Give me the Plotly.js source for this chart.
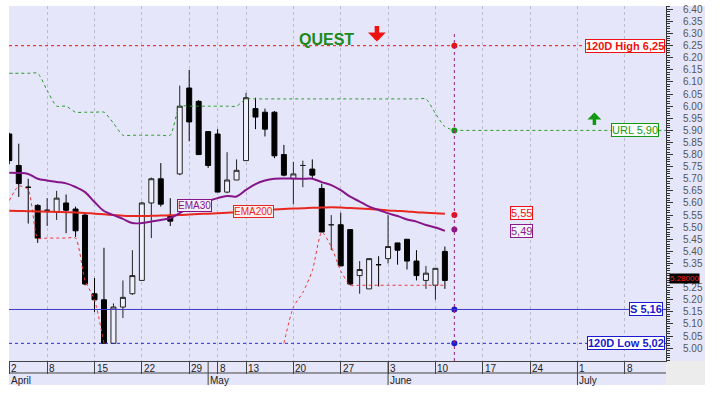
<!DOCTYPE html>
<html>
<head>
<meta charset="utf-8">
<script src="https://cdn.plot.ly/plotly-3.0.1.min.js"></script>
<style>
html,body{margin:0;padding:0;background:#ffffff;}
#chart{width:724px;height:398px;}
</style>
</head>
<body>
<div id="chart"></div>
<script>
// ---- candle data (trading-day slots 0..46, 2 April .. 11 June) ----
const openP  = [5.885,5.755,5.665,5.59,5.57,5.565,5.60,5.575,5.55,5.225,5.20,5.02,5.17,5.225,5.28,5.60,5.70,5.545,5.72,6.075,6.02,5.895,5.885,5.645,5.695,5.775,5.99,5.975,5.975,5.80,5.70,5.755,5.74,5.66,5.51,5.51,5.49,5.30,5.245,5.345,5.37,5.435,5.45,5.36,5.28,5.26,5.40];
const highP  = [5.89,5.845,5.70,5.595,5.62,5.65,5.635,5.585,5.555,5.29,5.415,5.185,5.28,5.405,5.605,5.705,5.765,5.62,6.085,6.15,6.025,5.895,5.905,5.81,5.78,6.055,6.035,5.99,5.98,5.84,5.77,5.775,5.78,5.68,5.55,5.56,5.49,5.36,5.37,5.38,5.55,5.435,5.45,5.405,5.34,5.33,5.42];
const lowP   = [5.76,5.625,5.515,5.435,5.505,5.53,5.475,5.46,5.26,5.15,5.02,5.02,5.125,5.22,5.28,5.455,5.585,5.505,5.715,5.855,5.80,5.745,5.645,5.64,5.695,5.775,5.905,5.875,5.785,5.71,5.595,5.665,5.70,5.48,5.405,5.34,5.26,5.225,5.245,5.255,5.35,5.345,5.325,5.28,5.245,5.20,5.245];
const closeP = [5.775,5.68,5.665,5.455,5.57,5.62,5.57,5.485,5.265,5.20,5.02,5.17,5.21,5.30,5.60,5.70,5.595,5.525,6.00,5.935,5.80,5.755,5.645,5.695,5.735,6.035,5.955,5.905,5.795,5.715,5.72,5.755,5.715,5.48,5.51,5.34,5.265,5.325,5.37,5.345,5.42,5.405,5.36,5.30,5.31,5.33,5.28];

// ---- indicators ----
const ema30  = [5.725,5.724,5.72,5.70,5.693,5.687,5.681,5.666,5.645,5.604,5.567,5.55,5.534,5.517,5.517,5.523,5.53,5.538,5.558,5.58,5.596,5.608,5.62,5.629,5.627,5.654,5.678,5.693,5.70,5.701,5.701,5.70,5.70,5.686,5.674,5.653,5.626,5.606,5.585,5.571,5.557,5.546,5.532,5.523,5.509,5.499,5.485];
const ema200 = [5.568,5.567,5.566,5.565,5.564,5.563,5.562,5.561,5.559,5.556,5.553,5.55,5.547,5.546,5.546,5.547,5.548,5.549,5.55,5.552,5.554,5.556,5.558,5.56,5.562,5.565,5.568,5.571,5.573,5.575,5.577,5.578,5.58,5.581,5.582,5.581,5.579,5.577,5.575,5.573,5.569,5.567,5.565,5.562,5.56,5.558,5.556];
const urlStop = [6.136,6.136,6.136,6.136,6.065,6.00,6.00,5.975,5.975,5.975,5.975,5.93,5.88,5.88,5.88,5.88,5.88,5.88,6.00,6.00,6.00,6.00,6.00,6.00,6.00,6.03,6.03,6.03,6.03,6.03,6.03,6.03,6.03,6.03,6.03,6.03,6.03,6.03,6.03,6.03,6.03,6.03,6.03,6.03,6.03,5.97,5.915,5.90];
const lowStop = [5.61,5.67,5.655,5.455,5.455,5.455,5.455,5.455,5.28,5.20,5.02,null,null,null,null,null,null,null,null,null,null,null,null,null,null,null,null,null,null,5.02,5.17,5.23,5.32,5.48,5.42,5.32,5.26,5.26,5.26,5.26,5.26,5.26,5.26,5.26,5.26,5.26,5.26];

// ---- levels ----
const levelSlot = 47;
const levelNames  = ['120D High 6,25','URL 5,90','5,55','5,49','S 5,16','120D Low 5,02'];
const levelValues = [6.25, 5.90, 5.55, 5.49, 5.16, 5.02];
const levelColors = ['#ee1111','#119911','#ee1111','#8a1a8a','#1a1ad0','#1a1ad0'];
const lastPrice = 5.28;
const markerTop = 6.30;

// ---- axis labels ----
const dayTickSlots  = [0,4,9,14,19,22,25,30,35,40,45,50,55,60,65];
const dayTickLabels = ['2','8','15','22','29','8','13','20','27','3','10','17','24','1','8'];
const monthSlots  = [0,21,40,60];
const monthLabels = ['April','May','June','July'];
const yTickVals = [5.00,5.05,5.10,5.15,5.20,5.25,5.30,5.35,5.40,5.45,5.50,5.55,5.60,5.65,5.70,5.75,5.80,5.85,5.90,5.95,6.00,6.05,6.10,6.15,6.20,6.25,6.30,6.35,6.40];
// 5.30 is hidden behind the last-price tag in the reference
const yTickText = ['5.00','5.05','5.10','5.15','5.20','5.25','','5.35','5.40','5.45','5.50','5.55','5.60','5.65','5.70','5.75','5.80','5.85','5.90','5.95','6.00','6.05','6.10','6.15','6.20','6.25','6.30','6.35','6.40'];

const X_MIN = -0.03, X_MAX = 69.35, Y_MIN = 4.947, Y_MAX = 6.414;
const FONT = 'Liberation Sans, Arial, sans-serif';
const candleX = openP.map((_, i) => i);
const lineX = urlStop.map((_, i) => i);

const traces = [
  {type:'scatter', mode:'lines', x:lineX, y:urlStop, line:{color:'#2a9a2a', width:1, dash:'dot', shape:'spline', smoothing:0.6}, hoverinfo:'skip'},
  {type:'scatter', mode:'lines', x:candleX, y:lowStop, line:{color:'#ee3333', width:1, dash:'dot', shape:'spline', smoothing:0.6}, connectgaps:false, hoverinfo:'skip'},
  {type:'candlestick', x:candleX, open:openP, high:highP, low:lowP, close:closeP,
   increasing:{line:{color:'#222222', width:1}, fillcolor:'#f0f0fc'},
   decreasing:{line:{color:'#000000', width:1}, fillcolor:'#000000'},
   whiskerwidth:0, hoverinfo:'skip'},
  {type:'scatter', mode:'lines', x:candleX, y:ema200, line:{color:'#e8281e', width:2, shape:'spline'}, hoverinfo:'skip'},
  {type:'scatter', mode:'lines', x:candleX, y:ema30, line:{color:'#86158a', width:2, shape:'spline'}, hoverinfo:'skip'},
  {type:'scatter', mode:'markers', x:levelValues.map(() => levelSlot), y:levelValues,
   marker:{color:levelColors, size:6}, hoverinfo:'skip'}
];

const shapes = [
  // right axis column and date strip backgrounds
  {type:'rect', xref:'paper', yref:'paper', x0:1, x1:1.0594, y0:0, y1:1, fillcolor:'#e6e6fa', line:{width:0}, layer:'below'},
  {type:'rect', xref:'paper', yref:'paper', x0:0, x1:1, y0:-0.0676, y1:0, fillcolor:'#e6e6fa', line:{width:0}, layer:'below'},
  {type:'rect', xref:'paper', yref:'paper', x0:1, x1:1.0594, y0:-0.0676, y1:0, fillcolor:'#ececec', line:{width:0}, layer:'below'},
  {type:'line', xref:'paper', yref:'paper', x0:0, x1:1, y0:-0.0338, y1:-0.0338, line:{color:'#444', width:1}},
  // horizontal levels
  {type:'line', xref:'paper', yref:'y', x0:0, x1:1, y0:levelValues[0], y1:levelValues[0], line:{color:levelColors[0], width:1, dash:'dot'}},
  {type:'line', xref:'x', yref:'y', x0:levelSlot, x1:X_MAX, y0:levelValues[1], y1:levelValues[1], line:{color:'#2a9a2a', width:1, dash:'dot'}},
  {type:'line', xref:'paper', yref:'y', x0:0, x1:1, y0:levelValues[4], y1:levelValues[4], line:{color:'#3a3ac8', width:1}},
  {type:'line', xref:'paper', yref:'y', x0:0, x1:1, y0:levelValues[5], y1:levelValues[5], line:{color:'#2a2ad0', width:1, dash:'dot'}},
  // vertical marker line
  {type:'line', xref:'x', yref:'y', x0:levelSlot, x1:levelSlot, y0:Y_MIN, y1:markerTop, line:{color:'#a0207a', width:1, dash:'dot'}}
];
monthSlots.slice(1).forEach(s => shapes.push({type:'line', xref:'x', yref:'paper', x0:s, x1:s, y0:-0.0676, y1:0, line:{color:'#444', width:1}}));

const annotations = [];
dayTickSlots.forEach((s, i) => annotations.push({xref:'x', yref:'paper', x:s, y:-0.001, xanchor:'left', yanchor:'top', xshift:0, showarrow:false, text:dayTickLabels[i], font:{family:FONT, size:10, color:'#222'}}));
monthSlots.forEach((s, i) => annotations.push({xref:'x', yref:'paper', x:Math.max(s, X_MIN), y:-0.0345, xanchor:'left', yanchor:'top', showarrow:false, text:monthLabels[i], font:{family:FONT, size:10, color:'#222'}}));

// level labels
const boxLabel = (i, xshift, bold, x) => ({xref: x === undefined ? 'paper' : 'x', yref:'y', x: x === undefined ? 1 : x, y:levelValues[i], xanchor: x === undefined ? 'right' : 'center', xshift:xshift, yanchor:'middle', showarrow:false,
  text: bold ? '<b>' + levelNames[i] + '</b>' : levelNames[i], font:{family:FONT, size:11, color:levelColors[i]}, bgcolor:'#ffffff', bordercolor:levelColors[i], borderwidth:1, borderpad:0});
annotations.push(boxLabel(0, -1, true));
annotations.push(boxLabel(1, -7, false));
annotations.push(Object.assign(boxLabel(2, 0, false, 54.1), {yshift:2, bgcolor:'#f4f4fc'}));
annotations.push(Object.assign(boxLabel(3, 0, false, 54.1), {yshift:-1, bgcolor:'#f4f4fc'}));
annotations.push(boxLabel(4, -3, true));
annotations.push(boxLabel(5, -1, true));
// indicator labels
annotations.push({xref:'x', yref:'y', x:19.6, y:5.59, showarrow:false, text:'EMA30', font:{family:FONT, size:10, color:'#86158a'}, bgcolor:'#f4eef8', bordercolor:'#86158a', borderwidth:1, borderpad:0});
annotations.push({xref:'x', yref:'y', x:25.8, y:5.565, showarrow:false, text:'EMA200', font:{family:FONT, size:10, color:'#e8281e'}, bgcolor:'#fbeeee', bordercolor:'#e8281e', borderwidth:1, borderpad:0});
// last price tag
annotations.push({xref:'paper', yref:'y', x:1, xshift:3, y:lastPrice, yshift:2, xanchor:'left', yanchor:'middle', showarrow:false, text:lastPrice.toFixed(5), font:{family:FONT, size:8, color:'#ff2222'}, bgcolor:'#000000', borderpad:0});
// title and arrows
annotations.push({xref:'paper', yref:'paper', x:0.484, y:0.935, showarrow:false, text:'<b>QUEST</b>', font:{family:FONT, size:16, color:'#1a8a1a'}});
annotations.push({xref:'paper', yref:'paper', x:0.560, y:0.900, ax:0, ay:-17, showarrow:true, text:'', arrowcolor:'#ee1111', arrowwidth:4.5, arrowhead:1, arrowsize:0.66});
annotations.push({xref:'paper', yref:'paper', x:0.891, y:0.700, ax:0, ay:14, showarrow:true, text:'', arrowcolor:'#119911', arrowwidth:3.5, arrowhead:1, arrowsize:0.66});

const layout = {
  width:724, height:398,
  margin:{l:9, r:58, t:6, b:37},
  paper_bgcolor:'#ffffff', plot_bgcolor:'#e6e6fa',
  showlegend:false, hovermode:false, boxgap:0.25,
  xaxis:{range:[X_MIN, X_MAX], tickvals:dayTickSlots, ticktext:dayTickLabels, showticklabels:false,
         ticks:'outside', ticklen:12, tickcolor:'#444', tickwidth:1,
         showgrid:true, gridcolor:'#bcbcd0', griddash:'dot', gridwidth:1,
         showline:true, linecolor:'#444', linewidth:1, zeroline:false, rangeslider:{visible:false}, fixedrange:true},
  yaxis:{range:[Y_MIN, Y_MAX], side:'right', tickvals:yTickVals, ticktext:yTickText,
         ticks:'outside', ticklen:6, tickcolor:'#333', tickwidth:1, ticklabelstandoff:8,
         minor:{ticks:'outside', ticklen:3, dtick:0.01, tick0:5, tickcolor:'#333', showgrid:false},
         tickfont:{family:FONT, size:10, color:'#555'},
         showgrid:false, showline:true, linecolor:'#333', linewidth:1, zeroline:false, automargin:false, fixedrange:true},
  shapes:shapes, annotations:annotations
};

Plotly.newPlot('chart', traces, layout, {staticPlot:true, displayModeBar:false});
</script>
</body>
</html>
